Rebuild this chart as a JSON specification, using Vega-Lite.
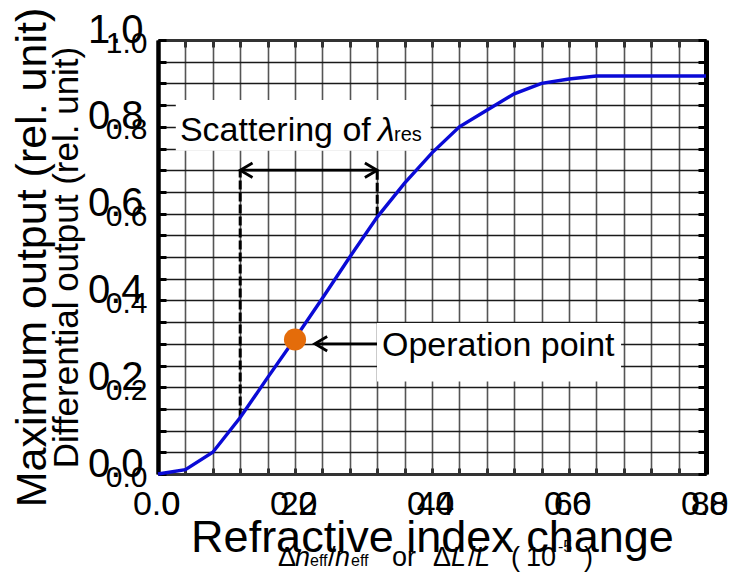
{
  "$schema": "https://vega.github.io/schema/vega-lite/v6.json",
  "width": 548,
  "height": 434,
  "autosize": {"type": "none"},
  "padding": {"left": 158, "top": 40, "right": 28, "bottom": 102},
  "background": "white",
  "config": {
    "view": {"stroke": null},
    "font": "Liberation Sans",
    "axis": {
      "labelFont": "Liberation Sans",
      "titleFont": "Liberation Sans",
      "labelColor": "#000",
      "titleColor": "#000",
      "titleFontWeight": "normal",
      "labelOverlap": false,
      "labelBound": false,
      "labelFlush": false,
      "labelAngle": 0
    }
  },
  "datasets": {
    "curve": [
      {"x": 0.0, "y": 0.0}, {"x": 0.04, "y": 0.01}, {"x": 0.08, "y": 0.05},
      {"x": 0.12, "y": 0.13}, {"x": 0.16, "y": 0.222}, {"x": 0.2, "y": 0.312},
      {"x": 0.24, "y": 0.405}, {"x": 0.28, "y": 0.5}, {"x": 0.32, "y": 0.592},
      {"x": 0.36, "y": 0.67}, {"x": 0.4, "y": 0.74}, {"x": 0.44, "y": 0.8},
      {"x": 0.48, "y": 0.838}, {"x": 0.52, "y": 0.876}, {"x": 0.56, "y": 0.9},
      {"x": 0.6, "y": 0.91}, {"x": 0.64, "y": 0.917}, {"x": 0.68, "y": 0.917},
      {"x": 0.72, "y": 0.917}, {"x": 0.76, "y": 0.917}, {"x": 0.8, "y": 0.917}
    ],
    "boxes": [
      {"x": 0.026, "x2": 0.398, "y": 0.745, "y2": 0.862},
      {"x": 0.3197, "x2": 0.676, "y": 0.213, "y2": 0.348}
    ],
    "guides": [
      {"x": 0.12, "y": 0.13, "y2": 0.7},
      {"x": 0.32, "y": 0.595, "y2": 0.7}
    ],
    "arrows": [
      {"x": 0.12, "x2": 0.32, "y": 0.7},
      {"x": 0.229, "x2": 0.3197, "y": 0.3}
    ],
    "headsLeft": [{"x": 0.12, "y": 0.7}, {"x": 0.229, "y": 0.3}],
    "headsRight": [{"x": 0.32, "y": 0.7}],
    "operation": [{"x": 0.2, "y": 0.31}],
    "opLabel": [{"x": 0.327, "y": 0.272, "text": "Operation point"}],
    "scatterLabel": [{"x": 0.032, "y": 0.767, "text": "Scattering of"}],
    "scatterLambda": [{"x": 0.321, "y": 0.767, "text": "λ"}],
    "scatterSub": [{"x": 0.3445, "y": 0.767, "text": "res"}],
    "unitPlain": [
      {"x": 0.1752, "y": -0.212, "text": "Δ"},
      {"x": 0.2482, "y": -0.212, "text": "/"},
      {"x": 0.3416, "y": -0.212, "text": "or"},
      {"x": 0.4015, "y": -0.212, "text": "Δ"},
      {"x": 0.4526, "y": -0.212, "text": "/"},
      {"x": 0.5153, "y": -0.212, "text": "("},
      {"x": 0.5372, "y": -0.212, "text": "10"},
      {"x": 0.6219, "y": -0.212, "text": ")"}
    ],
    "unitItalic": [
      {"x": 0.2, "y": -0.212, "text": "n"},
      {"x": 0.2584, "y": -0.212, "text": "n"},
      {"x": 0.4277, "y": -0.212, "text": "L"},
      {"x": 0.4628, "y": -0.212, "text": "L"}
    ],
    "unitSub": [
      {"x": 0.2219, "y": -0.212, "text": "eff"},
      {"x": 0.2818, "y": -0.212, "text": "eff"}
    ],
    "unitSup": [{"x": 0.5839, "y": -0.18, "text": "-5"}]
  },
  "layer": [
    {
      "encoding": {
        "x": {
          "field": "x", "type": "quantitative",
          "scale": {"domain": [0, 0.8], "nice": false, "zero": false},
          "axis": {
            "values": [0, 0.04, 0.08, 0.12, 0.16, 0.2, 0.24, 0.28, 0.32, 0.36, 0.4, 0.44, 0.48, 0.52, 0.56, 0.6, 0.64, 0.68, 0.72, 0.76, 0.8],
            "labelExpr": "abs(datum.value * 5 - round(datum.value * 5)) < 0.01 ? format(datum.value, '.1f') : ''",
            "labelFontSize": 34,
            "labelPadding": 19,
            "labelOffset": -2,
            "grid": true, "gridColor": "#555", "gridWidth": 1.6,
            "ticks": true, "tickSize": -6, "tickWidth": 3, "tickColor": "#333",
            "domainColor": "#333", "domainWidth": 3,
            "title": "Refractive index change",
            "titleFontSize": 45,
            "titlePadding": -6
          }
        },
        "y": {
          "field": "y", "type": "quantitative",
          "scale": {"domain": [0, 1], "nice": false, "zero": false},
          "axis": {
            "values": [0, 0.05, 0.1, 0.15, 0.2, 0.25, 0.3, 0.35, 0.4, 0.45, 0.5, 0.55, 0.6, 0.65, 0.7, 0.75, 0.8, 0.85, 0.9, 0.95, 1],
            "labelExpr": "abs(datum.value * 5 - round(datum.value * 5)) < 0.01 ? format(datum.value, '.1f') : ''",
            "labelFontSize": 40,
            "labelPadding": 23,
            "labelOffset": -10,
            "grid": true, "gridColor": "#1a1a1a", "gridWidth": 1.6,
            "ticks": true, "tickSize": -8, "tickWidth": 3, "tickColor": "#000",
            "domainColor": "#000", "domainWidth": 4.5,
            "title": "Maximum output (rel. unit)",
            "titleFontSize": 43,
            "titlePadding": 33
          }
        }
      },
      "layer": [
        {
          "data": {"name": "boxes"},
          "mark": {"type": "rect", "fill": "white"},
          "encoding": {"x2": {"field": "x2"}, "y2": {"field": "y2"}}
        },
        {
          "data": {"name": "guides"},
          "mark": {"type": "rule", "color": "#000", "strokeWidth": 3, "strokeDash": [9, 3]},
          "encoding": {"y2": {"field": "y2"}}
        },
        {
          "data": {"name": "arrows"},
          "mark": {"type": "rule", "color": "#000", "strokeWidth": 2.8},
          "encoding": {"x2": {"field": "x2"}}
        },
        {
          "data": {"name": "headsLeft"},
          "mark": {"type": "point", "shape": "M1.7,-1L0,0L1.7,1", "size": 210, "filled": false, "stroke": "#000", "strokeWidth": 2.8, "opacity": 1}
        },
        {
          "data": {"name": "headsRight"},
          "mark": {"type": "point", "shape": "M-1.7,-1L0,0L-1.7,1", "size": 210, "filled": false, "stroke": "#000", "strokeWidth": 2.8, "opacity": 1}
        },
        {
          "data": {"name": "curve"},
          "mark": {"type": "line", "color": "#0a0ad6", "strokeWidth": 3.4}
        },
        {
          "data": {"name": "scatterLabel"},
          "mark": {"type": "text", "align": "left", "baseline": "alphabetic", "fontSize": 34, "color": "#000"},
          "encoding": {"text": {"field": "text"}}
        },
        {
          "data": {"name": "scatterLambda"},
          "mark": {"type": "text", "align": "left", "baseline": "alphabetic", "fontSize": 34, "fontStyle": "italic", "color": "#000"},
          "encoding": {"text": {"field": "text"}}
        },
        {
          "data": {"name": "scatterSub"},
          "mark": {"type": "text", "align": "left", "baseline": "alphabetic", "fontSize": 20, "color": "#000"},
          "encoding": {"text": {"field": "text"}}
        },
        {
          "data": {"name": "unitPlain"},
          "mark": {"type": "text", "align": "left", "baseline": "alphabetic", "fontSize": 27, "color": "#000"},
          "encoding": {"text": {"field": "text"}}
        },
        {
          "data": {"name": "unitItalic"},
          "mark": {"type": "text", "align": "left", "baseline": "alphabetic", "fontSize": 27, "fontStyle": "italic", "color": "#000"},
          "encoding": {"text": {"field": "text"}}
        },
        {
          "data": {"name": "unitSub"},
          "mark": {"type": "text", "align": "left", "baseline": "alphabetic", "fontSize": 16, "color": "#000"},
          "encoding": {"text": {"field": "text"}}
        },
        {
          "data": {"name": "unitSup"},
          "mark": {"type": "text", "align": "left", "baseline": "alphabetic", "fontSize": 16, "color": "#000"},
          "encoding": {"text": {"field": "text"}}
        }
      ]
    },
    {
      "data": {"name": "operation"},
      "mark": {"type": "circle", "color": "#E46C0A", "size": 490, "opacity": 1},
      "encoding": {
        "x": {
          "field": "x", "type": "quantitative",
          "scale": {"domain": [0, 0.8], "nice": false, "zero": false},
          "axis": {
            "orient": "bottom",
            "values": [0, 0.2, 0.4, 0.6, 0.8],
            "labelExpr": "round(datum.value * 100) + ''",
            "labelFontSize": 34,
            "labelAlign": "right",
            "labelOffset": 22,
            "labelPadding": 13,
            "ticks": false, "domain": false, "grid": false,
            "title": null
          }
        },
        "y": {
          "field": "y", "type": "quantitative",
          "scale": {"domain": [0, 1], "nice": false, "zero": false},
          "axis": {
            "orient": "left",
            "values": [0, 0.2, 0.4, 0.6, 0.8, 1],
            "labelExpr": "format(datum.value, '.1f')",
            "labelFontSize": 30,
            "labelPadding": 11,
            "labelOffset": 3,
            "ticks": false, "domain": false, "grid": false,
            "title": "Differential output (rel. unit)",
            "titleFontSize": 35,
            "titlePadding": 21
          }
        }
      }
    },
    {
      "data": {"name": "opLabel"},
      "mark": {"type": "text", "align": "left", "baseline": "alphabetic", "fontSize": 34, "color": "#000"},
      "encoding": {
        "x": {
          "field": "x", "type": "quantitative",
          "scale": {"domain": [0, 0.8], "nice": false, "zero": false},
          "axis": {
            "orient": "top",
            "values": [0, 0.04, 0.08, 0.12, 0.16, 0.2, 0.24, 0.28, 0.32, 0.36, 0.4, 0.44, 0.48, 0.52, 0.56, 0.6, 0.64, 0.68, 0.72, 0.76, 0.8],
            "labels": false, "grid": false,
            "ticks": true, "tickSize": -7, "tickWidth": 3, "tickColor": "#333",
            "domainColor": "#333", "domainWidth": 3,
            "title": null
          }
        },
        "y": {
          "field": "y", "type": "quantitative",
          "scale": {"domain": [0, 1], "nice": false, "zero": false},
          "axis": {
            "orient": "right",
            "values": [0, 0.05, 0.1, 0.15, 0.2, 0.25, 0.3, 0.35, 0.4, 0.45, 0.5, 0.55, 0.6, 0.65, 0.7, 0.75, 0.8, 0.85, 0.9, 0.95, 1],
            "labels": false, "grid": false,
            "ticks": true, "tickSize": -8, "tickWidth": 3, "tickColor": "#000",
            "domainColor": "#000", "domainWidth": 5,
            "title": null
          }
        },
        "text": {"field": "text"}
      }
    }
  ],
  "resolve": {"scale": {"x": "independent", "y": "independent"}}
}
